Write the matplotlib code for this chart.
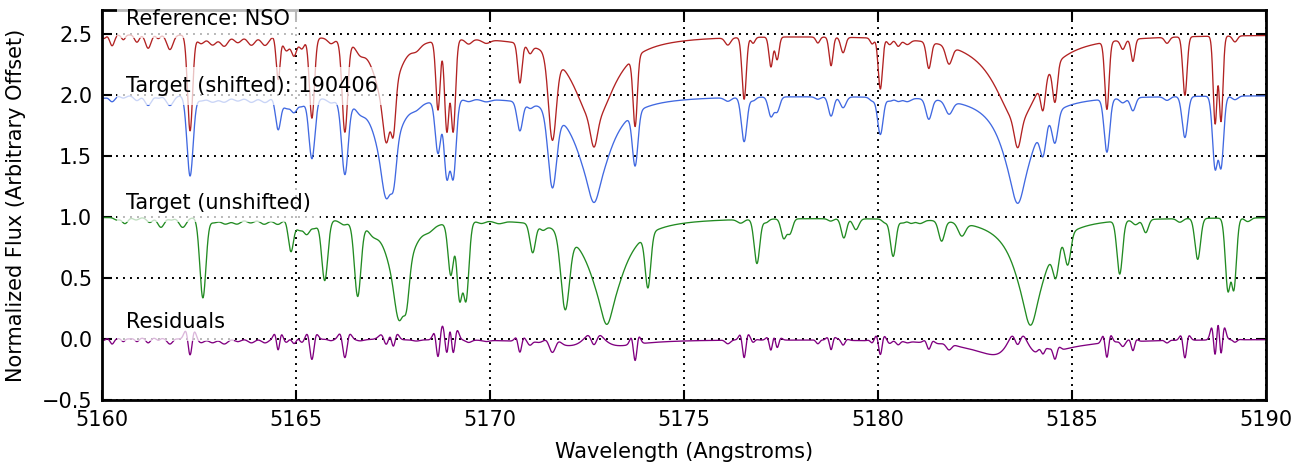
import numpy as np
import matplotlib
matplotlib.use('Agg')
import matplotlib.pyplot as plt

# absorption lines (wavelength in the shifted / reference frame)
line_center = [5160.05, 5160.26, 5160.55, 5160.90, 5161.19, 5161.45, 5161.75, 5162.27,
               5162.55, 5162.85, 5163.15, 5163.50, 5163.85, 5164.20, 5164.54, 5164.75,
               5164.95, 5165.15, 5165.41, 5165.90, 5166.26, 5166.65, 5167.33, 5167.50,
               5168.10, 5168.66, 5168.89, 5169.05, 5169.45, 5169.90, 5170.77, 5171.03,
               5171.61, 5172.68, 5173.74, 5176.13, 5176.55, 5176.78, 5177.24, 5177.40,
               5178.45, 5178.79, 5179.10, 5179.85, 5180.06, 5180.30, 5180.52, 5180.75,
               5181.31, 5181.83, 5183.60, 5184.25, 5184.56, 5185.90, 5186.31, 5186.57,
               5187.45, 5187.91, 5188.69, 5188.84, 5189.20]
ref_depth = [0.03, 0.09, 0.04, 0.06, 0.11, 0.03, 0.12, 0.79,
             0.07, 0.08, 0.09, 0.06, 0.08, 0.08, 0.36, 0.12,
             0.16, 0.10, 0.68, 0.04, 0.79, 0.06, 0.68, 0.68,
             0.04, 0.60, 0.79, 0.79, 0.04, 0.03, 0.35, 0.07,
             0.84, 0.73, 0.70, 0.06, 0.52, 0.05, 0.25, 0.19,
             0.05, 0.24, 0.13, 0.05, 0.43, 0.05, 0.06, 0.04,
             0.23, 0.16, 0.75, 0.39, 0.41, 0.59, 0.08, 0.19,
             0.05, 0.49, 0.73, 0.71, 0.05]
tgt_depth = [0.02, 0.05, 0.02, 0.04, 0.08, 0.02, 0.08, 0.66,
             0.04, 0.05, 0.05, 0.04, 0.05, 0.05, 0.27, 0.09,
             0.12, 0.07, 0.51, 0.03, 0.63, 0.05, 0.47, 0.53,
             0.03, 0.45, 0.66, 0.66, 0.02, 0.02, 0.25, 0.04,
             0.72, 0.45, 0.51, 0.03, 0.37, 0.03, 0.16, 0.12,
             0.02, 0.16, 0.09, 0.03, 0.31, 0.03, 0.03, 0.03,
             0.17, 0.11, 0.43, 0.33, 0.29, 0.45, 0.04, 0.11,
             0.03, 0.34, 0.59, 0.58, 0.03]
ref_sigma = [0.05, 0.06, 0.05, 0.06, 0.07, 0.05, 0.08, 0.065,
             0.10, 0.10, 0.10, 0.10, 0.10, 0.10, 0.05, 0.08,
             0.07, 0.07, 0.065, 0.08, 0.07, 0.10, 0.07, 0.06,
             0.10, 0.055, 0.06, 0.06, 0.08, 0.10, 0.055, 0.06,
             0.10, 0.08, 0.055, 0.07, 0.055, 0.05, 0.05, 0.05,
             0.05, 0.05, 0.06, 0.05, 0.055, 0.06, 0.06, 0.08,
             0.06, 0.08, 0.08, 0.06, 0.06, 0.055, 0.06, 0.05,
             0.06, 0.055, 0.05, 0.05, 0.06]

# damping wings of the Mg b lines
wing_center = [5167.33, 5172.68, 5183.60]
wing_ref_depth = [0.65, 0.72, 0.72]
wing_ref_gamma = [0.32, 0.62, 0.70]
wing_tgt_depth = [0.70, 0.78, 0.80]
wing_tgt_gamma = [0.30, 0.50, 0.45]

shift = 0.33      # Angstrom, target rest-frame shift
broad = 0.045     # extra instrumental broadening of the target

labels = ['Reference: NSO', 'Target (shifted): 190406', 'Target (unshifted)', 'Residuals']
label_y = [2.575, 2.03, 1.065, 0.09]


def spectrum(wave, depth, sigma, wdepth, wgamma):
    flux = np.ones_like(wave)
    for c, d, s in zip(line_center, depth, sigma):
        flux *= 1 - d * np.exp(-0.5 * ((wave - c) / s) ** 2)
    for c, d, g in zip(wing_center, wdepth, wgamma):
        flux *= 1 - d / (1 + ((wave - c) / g) ** 2)
    return flux


wave = np.arange(5159.0, 5191.0, 0.005)
ref_sig = np.array(ref_sigma)
tgt_sig = np.sqrt(ref_sig ** 2 + broad ** 2)
ref = spectrum(wave, ref_depth, ref_sig, wing_ref_depth, wing_ref_gamma)
tgt = spectrum(wave, tgt_depth, tgt_sig, wing_tgt_depth, wing_tgt_gamma)
resid = ref - tgt

fs = 15
fig = plt.figure(figsize=(13.14, 4.66), dpi=100)
ax = fig.add_axes([102 / 1314, 66 / 466, 1164 / 1314, 390 / 466])

ax.plot(wave, ref + 1.5, color='#b22222', lw=0.95)
ax.plot(wave, tgt + 1.0, color='#4169e1', lw=0.95)
ax.plot(wave + shift, tgt, color='#228b22', lw=0.95)
ax.plot(wave, resid, color='#800080', lw=0.95)

for txt, y in zip(labels, label_y):
    ax.text(5160.62, y, txt, fontsize=fs, va='baseline', ha='left',
            bbox=dict(facecolor='white', edgecolor='none', alpha=0.72, pad=6.5))

ax.set_xlim(5160, 5190)
ax.set_ylim(-0.5, 2.7)
ax.set_xticks(np.arange(5160, 5191, 5))
ax.set_yticks(np.arange(-0.5, 2.51, 0.5))
ax.set_yticklabels(['\u22120.5', '0.0', '0.5', '1.0', '1.5', '2.0', '2.5'])
ax.grid(True, color='k', linestyle=(0, (1, 2.6)), linewidth=1.4)
ax.tick_params(direction='in', top=True, right=True, length=7, width=1.5,
               labelsize=fs, pad=7)
for sp in ax.spines.values():
    sp.set_linewidth(2)

ax.set_xlabel('Wavelength (Angstroms)', fontsize=fs, labelpad=9)
ax.set_ylabel('Normalized Flux (Arbitrary Offset)', fontsize=fs, labelpad=11)

fig.savefig('out.png', dpi=100)
